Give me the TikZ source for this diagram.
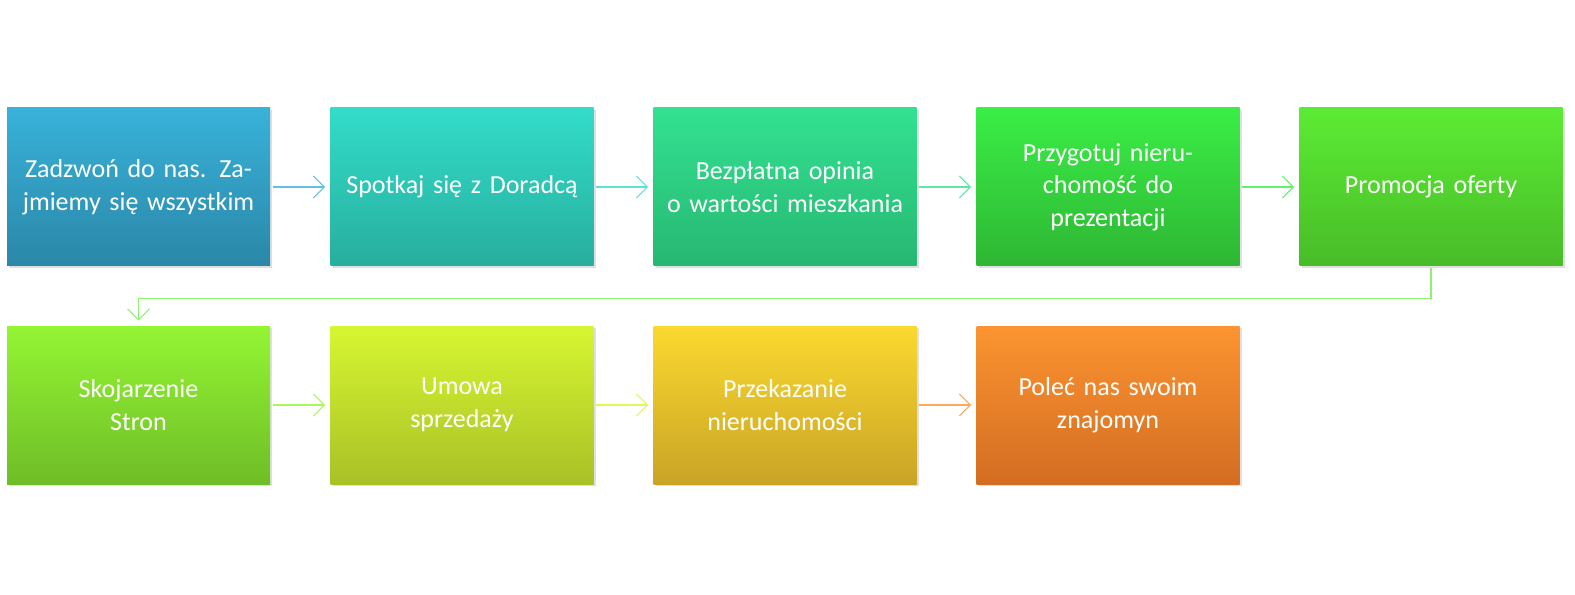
\documentclass[tikz,border=0pt]{standalone}
\usepackage{fontspec}
\setmainfont{Carlito}
\usetikzlibrary{arrows.meta,shadows}
\definecolor{krok_a1}{HTML}{38B2D9}\definecolor{krok_a2}{HTML}{2B87A8}
\definecolor{krok_b1}{HTML}{33DCC9}\definecolor{krok_b2}{HTML}{27AE9E}
\definecolor{krok_c1}{HTML}{33E191}\definecolor{krok_c2}{HTML}{27B772}
\definecolor{krok_d1}{HTML}{3AEE46}\definecolor{krok_d2}{HTML}{2EB634}
\definecolor{krok_e1}{HTML}{5CEB34}\definecolor{krok_e2}{HTML}{48BC28}
\definecolor{krok_f1}{HTML}{94F533}\definecolor{krok_f2}{HTML}{6FBD27}
\definecolor{krok_g1}{HTML}{D7F631}\definecolor{krok_g2}{HTML}{A9C127}
\definecolor{krok_h1}{HTML}{FBD92F}\definecolor{krok_h2}{HTML}{C9A426}
\definecolor{krok_i1}{HTML}{FB9430}\definecolor{krok_i2}{HTML}{D46D22}
\tikzset{
  krokbox/.style={shape=rectangle,minimum width=5.26cm,minimum height=3.16cm,text width=4.9cm,align=center,
    text=white,font=\fontsize{14.8}{18.5}\selectfont,drop shadow={opacity=0.25,shadow xshift=0.04cm,shadow yshift=-0.04cm}},
  krokarrow/.style={-{Straight Barb[length=2.2mm,width=4.4mm]},line width=0.6pt}
}
\begin{document}
\begin{tikzpicture}
    \useasboundingbox (0,0) rectangle (31.5,-11.9);
    \node[krokbox,top color=krok_a1,bottom color=krok_a2] (zadzwon)    at (2.77,-3.74)  { Zadzwoń do nas. Zajmiemy się wszystkim };
    \node[krokbox,top color=krok_b1,bottom color=krok_b2] (spotkaj)    at (9.24,-3.74)  { Spotkaj się z Doradcą };
    \node[krokbox,top color=krok_c1,bottom color=krok_c2] (opinia)     at (15.70,-3.74) { Bezpłatna opinia o~wartości mieszkania };
    \node[krokbox,top color=krok_d1,bottom color=krok_d2] (przygotuj)  at (22.16,-3.74) { Przygotuj nieruchomość do prezentacji };
    \node[krokbox,top color=krok_e1,bottom color=krok_e2] (promocja)   at (28.62,-3.74) { Promocja oferty };
    \node[krokbox,top color=krok_f1,bottom color=krok_f2] (skojarzenie) at (2.77,-8.10) { Skojarzenie\\Stron };
    \node[krokbox,top color=krok_g1,bottom color=krok_g2] (umowa)      at (9.24,-8.10)  { Umowa\\sprzedaży };
    \node[krokbox,top color=krok_h1,bottom color=krok_h2] (przekazanie) at (15.70,-8.10) { Przekazanie nieruchomości };
    \node[krokbox,top color=krok_i1,bottom color=krok_i2] (polec)      at (22.16,-8.10) { Poleć nas swoim znajomyn };
    \draw[krokarrow,draw=krok_a1!80!white] ([xshift=0.05cm]zadzwon.east) -- ([xshift=-0.1cm]spotkaj.west);
    \draw[krokarrow,draw=krok_b1!80!white] ([xshift=0.05cm]spotkaj.east) -- ([xshift=-0.1cm]opinia.west);
    \draw[krokarrow,draw=krok_c1!80!white] ([xshift=0.05cm]opinia.east) -- ([xshift=-0.1cm]przygotuj.west);
    \draw[krokarrow,draw=krok_d1!80!white] ([xshift=0.05cm]przygotuj.east) -- ([xshift=-0.1cm]promocja.west);
    \draw[krokarrow,draw=krok_e1!70!white] ([yshift=-0.03cm]promocja.south) -- ++(0,-0.62) -| ([yshift=0.1cm]skojarzenie.north);
    \draw[krokarrow,draw=krok_f1!80!white] ([xshift=0.05cm]skojarzenie.east) -- ([xshift=-0.1cm]umowa.west);
    \draw[krokarrow,draw=krok_g1!80!white] ([xshift=0.05cm]umowa.east) -- ([xshift=-0.1cm]przekazanie.west);
    \draw[krokarrow,draw=krok_i1!80!white] ([xshift=0.05cm]przekazanie.east) -- ([xshift=-0.1cm]polec.west);
\end{tikzpicture}
\end{document}
